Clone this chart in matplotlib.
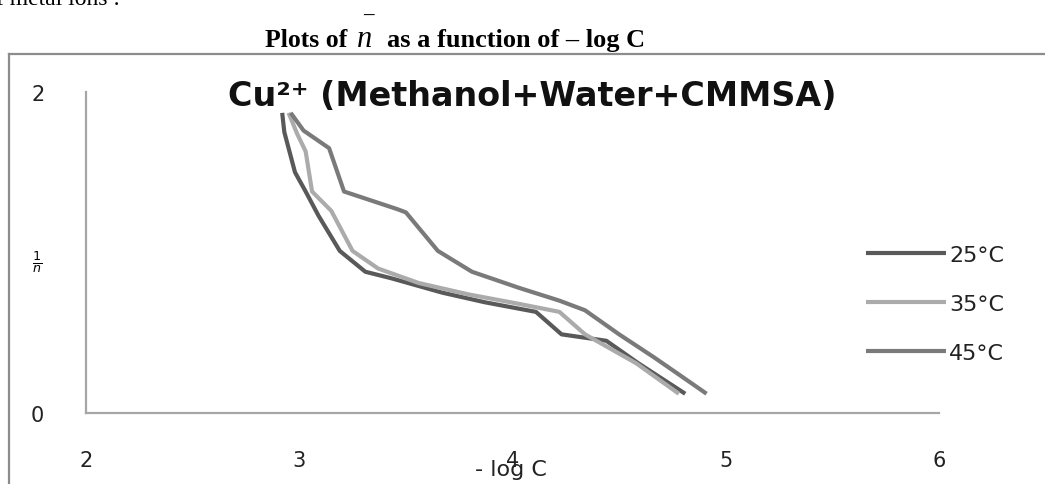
import matplotlib
matplotlib.use('Agg')
import matplotlib.pyplot as plt
from matplotlib.lines import Line2D

# -log C vs n-bar
x25 = [2.92, 2.93, 2.98, 3.03, 3.09, 3.19, 3.31, 3.43, 3.67, 3.87, 4.11, 4.23, 4.44, 4.59, 4.81]
y25 = [1.87, 1.75, 1.50, 1.38, 1.23, 1.01, 0.88, 0.84, 0.75, 0.69, 0.63, 0.49, 0.45, 0.31, 0.12]

x35 = [2.95, 2.99, 3.03, 3.06, 3.15, 3.25, 3.37, 3.56, 3.79, 4.03, 4.22, 4.34, 4.42, 4.58, 4.78]
y35 = [1.87, 1.74, 1.63, 1.38, 1.26, 1.01, 0.90, 0.81, 0.74, 0.68, 0.63, 0.49, 0.43, 0.31, 0.12]

x45 = [2.96, 3.02, 3.14, 3.21, 3.46, 3.50, 3.65, 3.81, 4.03, 4.22, 4.34, 4.50, 4.66, 4.78, 4.91]
y45 = [1.87, 1.76, 1.65, 1.38, 1.27, 1.25, 1.01, 0.88, 0.78, 0.70, 0.64, 0.49, 0.35, 0.24, 0.12]

labels = ['25°C', '35°C', '45°C']
colors = ['#595959', '#ababab', '#7a7a7a']
xticks = [2, 3, 4, 5, 6]
yticks = [0, 2]

W, H = 1045, 485
fig = plt.figure(figsize=(W / 100, H / 100), dpi=100)

# outer frame (only top and left edges are visible)
fig.add_artist(Line2D([9 / W, 9 / W], [0, 1 - 55 / H], color='#8c8c8c', lw=1.6))
fig.add_artist(Line2D([9 / W, 1], [1 - 55 / H, 1 - 55 / H], color='#8c8c8c', lw=1.6))

ax = fig.add_axes([86 / W, 1 - 414 / H, (939 - 86) / W, (414 - 93) / H])
for xs, ys, c, lab in zip([x25, x35, x45], [y25, y35, y45], colors, labels):
    ax.plot(xs, ys, color=c, lw=3, label=lab, solid_capstyle='butt')

ax.set_xlim(2, 6)
ax.set_ylim(0, 2)
ax.set_xticks(xticks)
ax.set_yticks(yticks)
ax.set_xticklabels([str(v) for v in xticks])
ax.set_yticklabels([str(v) for v in yticks])
ax.tick_params(axis='both', length=0, labelsize=15, colors='#222222')
ax.tick_params(axis='x', pad=27)
ax.tick_params(axis='y', pad=30)
for s in ['top', 'right']:
    ax.spines[s].set_visible(False)
for s in ['left', 'bottom']:
    ax.spines[s].set_color('#a6a6a6')
    ax.spines[s].set_linewidth(1.6)

fig.legend(loc='center left', bbox_to_anchor=(866 / W, 1 - 305 / H), frameon=False,
           fontsize=16, handlelength=3.6, handletextpad=0.15, labelspacing=1.3,
           borderpad=0, borderaxespad=0, labelcolor='#222222')

fig.text(228 / W, 1 - 97 / H, 'Cu²⁺ (Methanol+Water+CMMSA)', ha='left', va='center',
         fontsize=24, fontweight='bold', color='#111111')

fig.text(511 / W, 1 - 476 / H, '- log C', ha='center', va='baseline', fontsize=16, color='#222222')
fig.text(37 / W, 1 - 262 / H, r'$\frac{1}{n}$', ha='center', va='center', fontsize=13)

# text above the chart (from the surrounding document)
serif = 'Liberation Serif'
fig.text(-4 / W, 1 - 5 / H, 'f metal ions :', family=serif, fontsize=17, va='baseline')
fig.text(265 / W, 1 - 47 / H, 'Plots of', family=serif, fontweight='bold', fontsize=18.5, va='baseline')
fig.text(357 / W, 1 - 47 / H, 'n', family=serif, style='italic', fontsize=22, va='baseline')
fig.text(368 / W, 1 - 21 / H, '–', family=serif, fontweight='bold', fontsize=15, ha='center', va='baseline')
fig.text(387 / W, 1 - 47 / H, 'as a function of – log C', family=serif, fontweight='bold',
         fontsize=19, va='baseline')

fig.savefig('out.png', dpi=100)
